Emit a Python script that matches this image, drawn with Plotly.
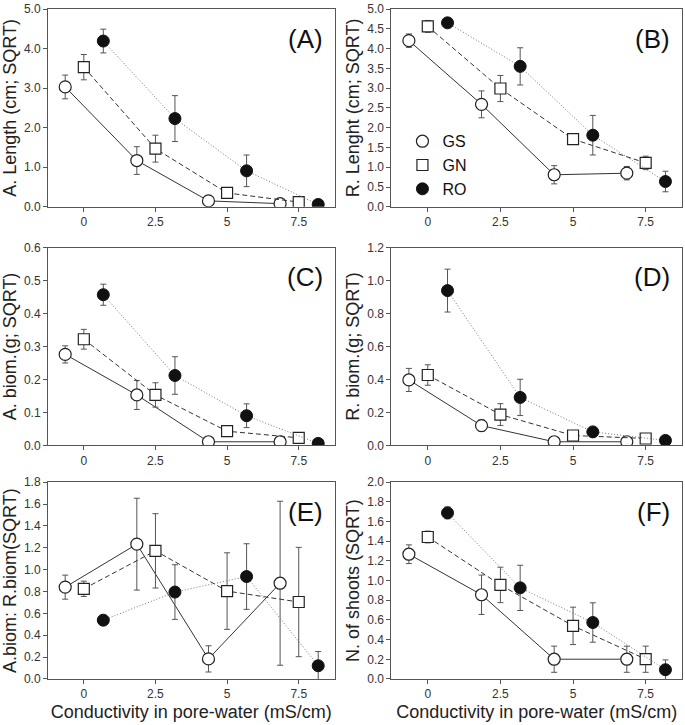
import plotly.graph_objects as go

# x positions (conductivity, offset per group)
x_gs = [-0.65, 1.85, 4.35, 6.85]
x_gn = [0.0, 2.5, 5.0, 7.5]
x_ro = [0.68, 3.18, 5.68, 8.18]

# Panel A: A. Length
a_gs = [3.03, 1.17, 0.15, 0.08]; a_gs_e = [0.30, 0.35, 0.0, 0.0]
a_gn = [3.53, 1.47, 0.35, 0.12]; a_gn_e = [0.32, 0.34, 0.0, 0.0]
a_ro = [4.19, 2.23, 0.91, 0.06]; a_ro_e = [0.30, 0.58, 0.40, 0.0]

# Panel B: R. Length
b_gs = [4.20, 2.59, 0.81, 0.85]; b_gs_e = [0.17, 0.34, 0.23, 0.17]
b_gn = [4.56, 2.99, 1.71, 1.11]; b_gn_e = [0.15, 0.33, 0.13, 0.17]
b_ro = [4.65, 3.55, 1.81, 0.64]; b_ro_e = [0.05, 0.47, 0.50, 0.26]

# Panel C: A. biom
c_gs = [0.276, 0.153, 0.011, 0.011]; c_gs_e = [0.026, 0.044, 0.0, 0.0]
c_gn = [0.322, 0.153, 0.043, 0.023]; c_gn_e = [0.030, 0.037, 0.008, 0.005]
c_ro = [0.457, 0.212, 0.090, 0.006]; c_ro_e = [0.032, 0.057, 0.036, 0.0]

# Panel D: R. biom
d_gs = [0.397, 0.120, 0.022, 0.022]; d_gs_e = [0.070, 0.035, 0.0, 0.0]
d_gn = [0.427, 0.187, 0.060, 0.042]; d_gn_e = [0.062, 0.066, 0.010, 0.010]
d_ro = [0.939, 0.291, 0.082, 0.030]; d_ro_e = [0.130, 0.110, 0.030, 0.0]

# Panel E: A.biom : R.biom
e_gs = [0.840, 1.233, 0.184, 0.876]; e_gs_e = [0.11, 0.42, 0.12, 0.75]
e_gn = [0.825, 1.172, 0.804, 0.704]; e_gn_e = [0.07, 0.34, 0.35, 0.50]
e_ro = [0.538, 0.795, 0.937, 0.121]; e_ro_e = [0.04, 0.25, 0.30, 0.13]

# Panel F: N. of shoots
f_gs = [1.268, 0.856, 0.201, 0.201]; f_gs_e = [0.095, 0.20, 0.133, 0.133]
f_gn = [1.443, 0.956, 0.540, 0.201]; f_gn_e = [0.06, 0.18, 0.19, 0.133]
f_ro = [1.688, 0.926, 0.574, 0.094]; f_ro_e = [0.06, 0.23, 0.20, 0.10]

panels = [
    ("(A)", "A. Length (cm; SQRT)", 5.0, 1.0, (a_gs, a_gs_e), (a_gn, a_gn_e), (a_ro, a_ro_e)),
    ("(B)", "R. Lenght (cm; SQRT)", 5.0, 0.5, (b_gs, b_gs_e), (b_gn, b_gn_e), (b_ro, b_ro_e)),
    ("(C)", "A. biom.(g; SQRT)", 0.6, 0.1, (c_gs, c_gs_e), (c_gn, c_gn_e), (c_ro, c_ro_e)),
    ("(D)", "R. biom.(g; SQRT)", 1.2, 0.2, (d_gs, d_gs_e), (d_gn, d_gn_e), (d_ro, d_ro_e)),
    ("(E)", "A.biom: R.biom(SQRT)", 1.8, 0.2, (e_gs, e_gs_e), (e_gn, e_gn_e), (e_ro, e_ro_e)),
    ("(F)", "N. of shoots (SQRT)", 2.0, 0.2, (f_gs, f_gs_e), (f_gn, f_gn_e), (f_ro, f_ro_e)),
]

x_ticks = [0, 2.5, 5, 7.5]
x_ticklabels = ["0", "2.5", "5", "7.5"]
x_title = "Conductivity in pore-water (mS/cm)"
groups = ["GS", "GN", "RO"]

FONT = "Arial, Liberation Sans, sans-serif"
W, H = 685, 725
ML, MR, MT, MB = 48, 2, 5, 46
pw, ph = W - ML - MR, H - MT - MB

def fx(px):
    return (px - ML) / pw

def fy(py):
    return 1 - (py - MT) / ph

col_dom = [[fx(48), fx(335)], [fx(392), fx(683)]]
row_dom = [[fy(204), fy(5)], [fy(444), fy(245)], [fy(679), fy(481)]]

fig = go.Figure()

styles = {
    "GS": dict(marker=dict(symbol="circle", size=12, color="white", line=dict(color="#222", width=1.2)),
               line=dict(color="#333", width=1, dash="solid")),
    "GN": dict(marker=dict(symbol="square", size=11, color="white", line=dict(color="#222", width=1.2)),
               line=dict(color="#333", width=1, dash="5px,3px")),
    "RO": dict(marker=dict(symbol="circle", size=12, color="#111", line=dict(color="#111", width=1)),
               line=dict(color="#777", width=1, dash="1px,2px")),
}
xs = {"GS": x_gs, "GN": x_gn, "RO": x_ro}

for i, (lab, ytitle, ymax, dtick, sgs, sgn, sro) in enumerate(panels):
    r, c = i // 2, i % 2
    n = i + 1
    xa = "x" if n == 1 else f"x{n}"
    ya = "y" if n == 1 else f"y{n}"
    for g, (vals, errs) in zip(groups, [sgs, sgn, sro]):
        fig.add_trace(go.Scatter(
            x=xs[g], y=vals, mode="lines+markers", xaxis=xa, yaxis=ya,
            error_y=dict(type="data", array=errs, visible=True, color="#555", thickness=1, width=3),
            marker=styles[g]["marker"], line=styles[g]["line"], showlegend=False, cliponaxis=True,
        ))
    axis_common = dict(showline=True, linecolor="#555", linewidth=1, mirror=True, ticks="outside",
                       ticklen=4, tickcolor="#555", showgrid=False, zeroline=False,
                       tickfont=dict(family=FONT, size=12, color="#333"))
    xkey = "xaxis" if n == 1 else f"xaxis{n}"
    ykey = "yaxis" if n == 1 else f"yaxis{n}"
    xdict = dict(domain=col_dom[c], anchor=ya, range=[-1.25, 8.75], tickvals=x_ticks,
                 ticktext=x_ticklabels, **axis_common)
    if r == 2:
        xdict["title"] = dict(text=x_title, font=dict(family=FONT, size=18, color="#222"), standoff=4)
    ydict = dict(domain=row_dom[r], anchor=xa, range=[0, ymax], dtick=dtick, tick0=0,
                 tickformat=".1f",
                 title=dict(text=ytitle, font=dict(family=FONT, size=18, color="#222"), standoff=3),
                 **axis_common)
    fig.update_layout(**{xkey: xdict, ykey: ydict})
    fig.add_annotation(text=lab, xref=f"{xa} domain", yref=f"{ya} domain", x=0.965, y=0.85,
                       xanchor="right", yanchor="middle", showarrow=False,
                       font=dict(family=FONT, size=26, color="#111"))

# legend entries (markers only)
for g in groups:
    fig.add_trace(go.Scatter(x=[None], y=[None], mode="markers", name=g, marker=styles[g]["marker"],
                             xaxis="x2", yaxis="y2", showlegend=True))

fig.update_layout(
    width=W, height=H,
    margin=dict(l=ML, r=MR, t=MT, b=MB),
    plot_bgcolor="white", paper_bgcolor="white",
    font=dict(family=FONT, color="#222"),
    legend=dict(x=fx(403), y=fy(121), xanchor="left", yanchor="top", bgcolor="rgba(0,0,0,0)",
                font=dict(family=FONT, size=16, color="#111"), itemwidth=30, tracegroupgap=0),
)

fig.write_html("out.html", config={"displayModeBar": False})

# remove default page margin so the figure fills the window exactly
with open("out.html", "r", encoding="utf-8") as fh:
    html = fh.read()
html = html.replace("<head>", "<head><style>html,body{margin:0;padding:0;overflow:hidden;}</style>", 1)
with open("out.html", "w", encoding="utf-8") as fh:
    fh.write(html)
